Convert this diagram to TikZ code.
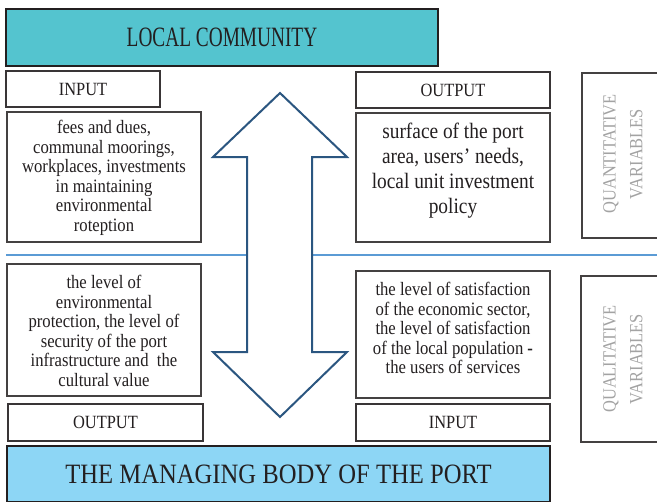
\documentclass[tikz,border=0pt]{standalone}
\usepackage{fontspec}
\setmainfont{Liberation Serif}[FakeStretch=0.88]
\newfontfamily\narrowserif{Liberation Serif}[FakeStretch=0.69]
\usepackage{tikz}
\definecolor{teal1}{HTML}{54C4CF}
\definecolor{sky1}{HTML}{8DD6F5}
\definecolor{line1}{HTML}{5B9BD5}
\definecolor{arrow1}{HTML}{2B5680}
\definecolor{ink}{HTML}{231F20}
\definecolor{grey1}{HTML}{A3A3A3}

\begin{document}
\begin{tikzpicture}[x=0.75pt,y=-0.75pt,
    titlebox/.style={rectangle,draw=ink,line width=1.6pt,text=ink,inner sep=0pt,
        font=\fontsize{21}{24}\selectfont},
    headbox/.style={rectangle,draw=ink!90,line width=1.1pt,fill=white,text=ink,inner sep=0pt,
        minimum height=27pt,font=\fontsize{14}{16}\selectfont},
    textbox/.style={rectangle,draw=ink!85,line width=0.8pt,fill=white,inner sep=0pt,minimum width=145.5pt},
    bodytext/.style={align=center,text=ink,inner sep=0pt,font=\fontsize{14.2}{14.6}\selectfont},
    varbox/.style={rectangle,draw=ink!85,line width=0.8pt,inner sep=0pt},
    vartext/.style={rotate=90,align=center,text=grey1,inner sep=0pt,font=\fontsize{14}{20}\selectfont}]
\useasboundingbox (0,0) rectangle (657,501);
\clip (0,0) rectangle (657,501);

% dividing line
\coordinate (l1) at (6,255);
\coordinate (l2) at (670,255);
\draw[line1,line width=1.6pt] (l1) -- (l2);

% double arrow
\draw[arrow1,line width=1.5pt,fill=white,line join=miter]
    (280,93) -- (347,157) -- (312,157) -- (312,352) -- (347,352) -- (280,417)
    -- (213,352) -- (247,352) -- (247,157) -- (213,157) -- cycle;

% top half
\node[titlebox,fill=teal1,minimum width=324pt,minimum height=42.75pt,
    font=\narrowserif\fontsize{21}{24}\selectfont] (lc) at (222,37.5) {LOCAL COMMUNITY};
\node[headbox,minimum width=115.5pt] (inL) at (83,89) {INPUT};
\node[headbox,minimum width=145.5pt] (outR) at (453,90) {OUTPUT};
\node[textbox,minimum height=97.5pt] (tl) at (104,177) {};
\node[bodytext] (tlt) at (104,178) {fees and dues,\\communal moorings,\\workplaces, investments\\in maintaining\\environmental\\roteption};
\node[textbox,minimum height=96.75pt] (tr) at (453,177.5) {};
\node[bodytext,font=\fontsize{16.5}{18.75}\selectfont] (trt) at (453,171) {surface of the port\\area, users’ needs,\\local unit investment\\policy};
\node[varbox,minimum width=61.5pt,minimum height=123.75pt] (quant) at (623,155.5) {};
\node[vartext] (quantt) at (623,154) {QUANTITATIVE\\VARIABLES};

% bottom half
\node[textbox,minimum height=99pt] (bl) at (104,330) {};
\node[bodytext] (blt) at (104,331) {the level of\\environmental\\protection, the level of\\security of the port\\infrastructure and\ \ the\\cultural value};
\node[headbox,minimum width=146.25pt,minimum height=27.75pt] (outL) at (105.5,422.5) {OUTPUT};
\node[textbox,minimum height=95.25pt] (br) at (453,334.5) {};
\node[bodytext] (brt) at (453,328) {the level of satisfaction\\of the economic sector,\\the level of satisfaction\\of the local population \textbf{-}\\the users of services};
\node[headbox,minimum width=145.5pt,minimum height=27.75pt] (inR) at (453,422.5) {INPUT};
\node[varbox,minimum width=63pt,minimum height=124.5pt] (qual) at (623,359) {};
\node[vartext] (qualt) at (623,359) {QUALITATIVE\\VARIABLES};
\node[titlebox,fill=sky1,minimum width=407.25pt,minimum height=42pt] (mb) at (278.5,474) {THE MANAGING BODY OF THE PORT};
\end{tikzpicture}
\end{document}
